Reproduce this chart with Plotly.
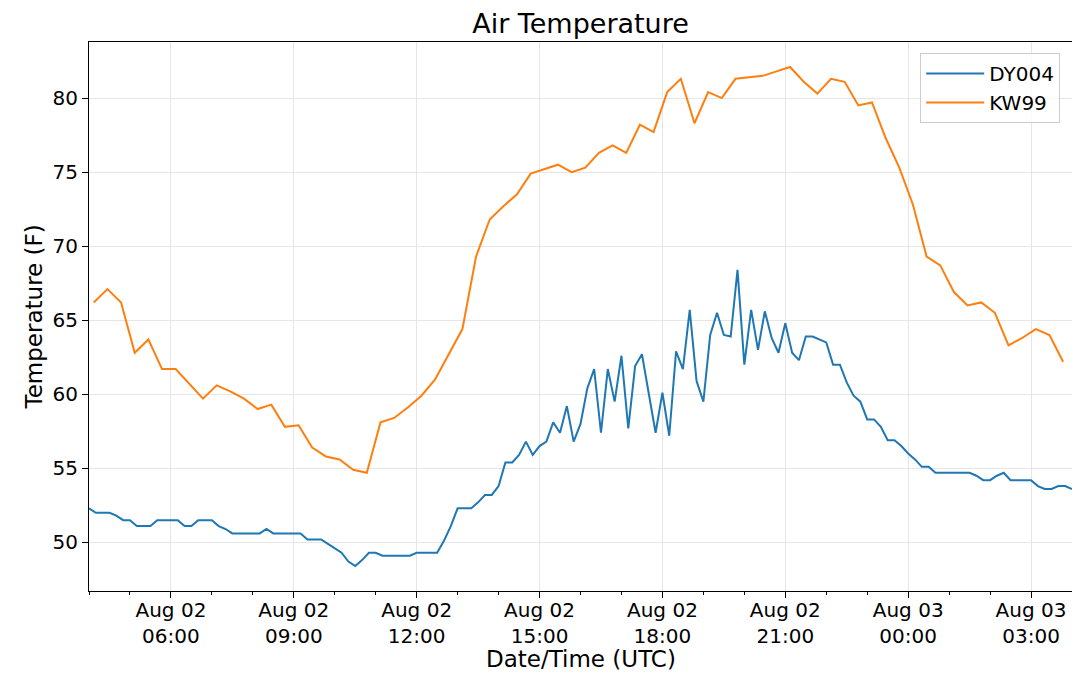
import pandas as pd
import plotly.graph_objects as go

# DY004: every 10 min from 04:00
dy004_start = "2018-08-02 04:00"
dy004_temp = [
    52.3, 52.0, 52.0, 52.0, 51.8, 51.5, 51.5, 51.1, 51.1, 51.1,
    51.5, 51.5, 51.5, 51.5, 51.1, 51.1, 51.5, 51.5, 51.5, 51.1,
    50.9, 50.6, 50.6, 50.6, 50.6, 50.6, 50.9, 50.6, 50.6, 50.6,
    50.6, 50.6, 50.2, 50.2, 50.2, 49.9, 49.6, 49.3, 48.7, 48.4,
    48.8, 49.3, 49.3, 49.1, 49.1, 49.1, 49.1, 49.1, 49.3, 49.3,
    49.3, 49.3, 50.1, 51.1, 52.3, 52.3, 52.3, 52.7, 53.2, 53.2,
    53.8, 55.4, 55.4, 55.9, 56.8, 55.9, 56.5, 56.8, 58.1, 57.4,
    59.2, 56.8, 58.0, 60.4, 61.7, 57.4, 61.7, 59.5, 62.6, 57.7,
    61.9, 62.7, 60.0, 57.4, 60.1, 57.2, 62.9, 61.7, 65.7, 60.9,
    59.5, 64.0, 65.5, 64.0, 63.9, 68.4, 62.0, 65.7, 63.0, 65.6,
    63.8, 62.8, 64.8, 62.8, 62.3, 63.9, 63.9, 63.7, 63.5, 62.0,
    62.0, 60.8, 59.9, 59.5, 58.3, 58.3, 57.8, 56.9, 56.9, 56.5,
    56.0, 55.6, 55.1, 55.1, 54.7, 54.7, 54.7, 54.7, 54.7, 54.7,
    54.5, 54.2, 54.2, 54.5, 54.7, 54.2, 54.2, 54.2, 54.2, 53.8,
    53.6, 53.6, 53.8, 53.8, 53.6,
]

# KW99: every 20 min from 04:07
kw99_start = "2018-08-02 04:07"
kw99_temp = [
    66.2, 67.1, 66.2, 62.8, 63.7, 61.7, 61.7, 60.7, 59.7, 60.6,
    60.2, 59.7, 59.0, 59.3, 57.8, 57.9, 56.4, 55.8, 55.6, 54.9,
    54.7, 58.1, 58.4, 59.1, 59.9, 61.0, 62.7, 64.4, 69.3, 71.8,
    72.7, 73.5, 74.9, 75.2, 75.5, 75.0, 75.3, 76.3, 76.8, 76.3,
    78.2, 77.7, 80.4, 81.3, 78.3, 80.4, 80.0, 81.3, 81.4, 81.5,
    81.8, 82.1, 81.1, 80.3, 81.3, 81.1, 79.5, 79.7, 77.3, 75.3,
    72.8, 69.3, 68.7, 66.9, 66.0, 66.2, 65.5, 63.3, 63.8, 64.4,
    64.0, 62.2,
]

dy004_time = pd.date_range(dy004_start, periods=len(dy004_temp), freq="10min")
kw99_time = pd.date_range(kw99_start, periods=len(kw99_temp), freq="20min")

font = "DejaVu Sans"

fig = go.Figure()
fig.add_trace(go.Scatter(x=dy004_time, y=dy004_temp, mode="lines", name="DY004",
                         line=dict(color="#1f77b4", width=2)))
fig.add_trace(go.Scatter(x=kw99_time, y=kw99_temp, mode="lines", name="KW99",
                         line=dict(color="#ff7f0e", width=2)))

lo = min(min(dy004_temp), min(kw99_temp))
hi = max(max(dy004_temp), max(kw99_temp))
pad = (hi - lo) * 0.05

# page body has an 8px margin, so the figure is sized a bit smaller
fig.update_layout(
    width=1072, height=674,
    margin=dict(l=81, r=8, t=34, b=91),
    paper_bgcolor="white", plot_bgcolor="white",
    font=dict(family=font, size=20, color="black"),
    title=dict(text="Air Temperature", x=0.5, xref="paper", xanchor="center",
               y=1 - 16 / 674, yanchor="middle", font=dict(size=27)),
    showlegend=True,
    legend=dict(x=0.988, y=0.98, xanchor="right", yanchor="top",
                bgcolor="rgba(255,255,255,0.8)", bordercolor="#cccccc", borderwidth=1,
                font=dict(size=20), itemwidth=58),
    annotations=[
        dict(text="Date/Time (UTC)", x=0.5, y=-0.124, xref="paper", yref="paper",
             xanchor="center", yanchor="middle", showarrow=False, font=dict(size=23)),
        dict(text="Temperature (F)", x=-0.056, y=0.5, xref="paper", yref="paper",
             xanchor="center", yanchor="middle", textangle=-90, showarrow=False,
             font=dict(size=23)),
    ],
)
fig.update_xaxes(
    range=[dy004_time[0], dy004_time[-1]],
    automargin=False,
    tick0="2018-08-02 06:00", dtick=3 * 3600 * 1000,
    tickformat="%b %d<br>%H:%M",
    ticklabelstandoff=-5,
    ticks="outside", ticklen=6, tickcolor="black",
    minor=dict(dtick=3600 * 1000, ticks="outside", ticklen=3, tickcolor="black", showgrid=False),
    showgrid=True, gridcolor="#e6e6e6", gridwidth=1,
    showline=True, linecolor="black", linewidth=1, mirror=True,
    zeroline=False,
)
fig.update_yaxes(
    range=[lo - pad, hi + pad],
    automargin=False,
    dtick=5,
    ticks="outside", ticklen=6, tickcolor="black",
    showgrid=True, gridcolor="#e6e6e6", gridwidth=1,
    showline=True, linecolor="black", linewidth=1, mirror=True,
    zeroline=False,
)

fig.write_html("out.html")
